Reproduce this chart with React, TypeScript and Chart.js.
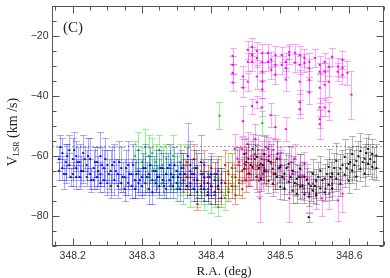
import React, { useEffect, useRef } from 'react';
import { Chart, registerables } from 'chart.js';

Chart.register(...registerables);

type P = [number, number, number]; // [R.A., V_LSR, error]

const blueData: P[] = [
  [348.180, -61, 4], [348.180, -65, 3], [348.185, -59, 5], [348.185, -64, 4],
  [348.190, -62, 6], [348.190, -66, 3], [348.195, -58, 5], [348.195, -63, 4],
  [348.200, -61, 7], [348.200, -66, 4], [348.205, -60, 5], [348.205, -64, 3], [348.205, -67, 4],
  [348.210, -62, 6], [348.210, -67, 4], [348.215, -59, 6], [348.215, -65, 4],
  [348.220, -63, 5], [348.220, -67, 3], [348.225, -61, 7], [348.225, -66, 5],
  [348.230, -64, 6], [348.230, -68, 3], [348.235, -62, 5], [348.235, -67, 4],
  [348.240, -60, 8], [348.240, -66, 4], [348.240, -69, 3], [348.245, -64, 6], [348.245, -68, 4],
  [348.250, -63, 5], [348.250, -69, 4], [348.255, -65, 7], [348.255, -70, 4],
  [348.260, -62, 6], [348.260, -68, 5], [348.265, -66, 5], [348.265, -70, 4],
  [348.270, -64, 7], [348.270, -69, 3], [348.275, -67, 6], [348.275, -71, 4],
  [348.280, -63, 8], [348.280, -69, 4], [348.285, -66, 5], [348.285, -70, 4],
  [348.290, -68, 6], [348.290, -71, 3], [348.295, -65, 7], [348.295, -69, 4],
  [348.300, -67, 6], [348.300, -70, 4], [348.305, -64, 8], [348.305, -69, 4],
  [348.310, -66, 6], [348.310, -71, 5], [348.315, -68, 5], [348.315, -72, 4],
  [348.320, -65, 7], [348.320, -69, 3], [348.325, -67, 6], [348.325, -70, 4],
  [348.330, -64, 5], [348.330, -68, 4], [348.335, -66, 6], [348.335, -71, 3],
  [348.340, -63, 7], [348.340, -68, 4], [348.345, -67, 5], [348.345, -70, 4],
  [348.350, -65, 6], [348.350, -69, 3], [348.355, -66, 4], [348.355, -71, 4],
  [348.360, -64, 5], [348.360, -68, 3], [348.366, -60, 11], [348.365, -70, 4],
  [348.370, -63, 8], [348.370, -69, 4], [348.375, -66, 5], [348.375, -71, 4],
  [348.380, -68, 5], [348.380, -72, 3], [348.385, -62, 9], [348.385, -70, 4],
  [348.390, -67, 5], [348.390, -71, 4], [348.395, -69, 4], [348.395, -73, 3],
  [348.400, -66, 6], [348.400, -70, 4], [348.405, -68, 4], [348.405, -72, 4],
  [348.410, -70, 4], [348.415, -69, 5],
  [348.182, -57, 4], [348.187, -66, 5], [348.192, -60, 4], [348.197, -67, 3],
  [348.202, -58, 6], [348.207, -62, 5], [348.212, -65, 5], [348.217, -61, 4],
  [348.222, -60, 6], [348.227, -68, 4], [348.232, -62, 5], [348.237, -65, 5],
  [348.242, -63, 6], [348.247, -61, 7], [348.252, -66, 5], [348.257, -63, 6],
  [348.262, -65, 4], [348.267, -62, 7], [348.272, -67, 5], [348.277, -64, 6],
  [348.282, -66, 4], [348.287, -63, 7], [348.292, -66, 5], [348.297, -68, 4],
  [348.302, -64, 5], [348.307, -67, 5], [348.312, -63, 6], [348.317, -65, 5],
  [348.322, -67, 4], [348.327, -64, 6], [348.332, -70, 4], [348.337, -64, 5],
  [348.342, -66, 5], [348.347, -63, 6], [348.352, -67, 4], [348.357, -64, 6],
  [348.362, -66, 5], [348.372, -66, 5], [348.378, -64, 6], [348.388, -66, 5],
  [348.398, -67, 6], [348.408, -66, 5],
];

const redData: P[] = [
  [348.360, -63, 4], [348.360, -69, 3], [348.365, -62, 5], [348.365, -67, 4],
  [348.370, -65, 4], [348.370, -70, 3], [348.375, -61, 5], [348.375, -68, 4],
  [348.380, -64, 5], [348.380, -76, 2], [348.385, -66, 4], [348.385, -71, 3],
  [348.390, -63, 5], [348.390, -69, 4], [348.395, -67, 4], [348.395, -72, 3],
  [348.400, -64, 5], [348.400, -70, 4], [348.405, -66, 4], [348.405, -73, 3],
  [348.410, -65, 5], [348.410, -71, 4], [348.415, -68, 4], [348.415, -74, 3],
  [348.420, -63, 5], [348.420, -69, 4], [348.425, -66, 4], [348.425, -72, 3],
  [348.430, -64, 5], [348.430, -70, 4], [348.435, -67, 4], [348.435, -73, 3],
  [348.440, -62, 5], [348.440, -69, 4], [348.445, -65, 4], [348.445, -71, 3],
  [348.450, -63, 5], [348.450, -68, 4], [348.455, -66, 4], [348.460, -64, 4],
  [348.465, -67, 4], [348.470, -63, 4], [348.480, -65, 4], [348.490, -66, 4],
];

const greenData: P[] = [
  [348.290, -60, 5], [348.295, -58, 6], [348.295, -66, 4], [348.300, -62, 5],
  [348.305, -57, 6], [348.305, -64, 4], [348.310, -60, 7], [348.310, -67, 4],
  [348.315, -59, 5], [348.315, -65, 4], [348.320, -62, 6], [348.320, -68, 4],
  [348.325, -58, 5], [348.325, -64, 5], [348.330, -63, 6], [348.330, -69, 4],
  [348.335, -61, 5], [348.335, -66, 4], [348.340, -64, 6], [348.340, -70, 4],
  [348.345, -60, 7], [348.345, -67, 4], [348.350, -65, 5], [348.350, -71, 4],
  [348.355, -62, 6], [348.355, -69, 4], [348.360, -66, 5], [348.360, -72, 4],
  [348.365, -63, 7], [348.365, -70, 3], [348.370, -67, 5], [348.370, -73, 4],
  [348.375, -64, 6], [348.375, -71, 4], [348.380, -68, 5], [348.380, -74, 3],
  [348.385, -65, 6], [348.385, -72, 4], [348.390, -69, 4], [348.390, -75, 3],
  [348.395, -66, 5], [348.395, -71, 4], [348.400, -70, 4], [348.400, -76, 3],
  [348.405, -67, 5], [348.405, -73, 4], [348.410, -68, 4], [348.410, -77, 3],
  [348.412, -46.5, 4.5], [348.415, -66, 6], [348.415, -72, 4],
  [348.420, -69, 4], [348.420, -74, 4], [348.425, -65, 6], [348.425, -71, 3],
  [348.430, -67, 5], [348.435, -64, 6], [348.435, -70, 4], [348.440, -68, 5],
  [348.474, -49, 4],
];

const blackData: P[] = [
  [348.448, -59.3, 5], [348.448, -64.2, 4], [348.454, -60.9, 5], [348.454, -65.9, 4],
  [348.460, -57.6, 5], [348.460, -63.6, 4], [348.466, -60.3, 4], [348.466, -66.9, 5],
  [348.472, -62.6, 5], [348.472, -67.5, 4], [348.477, -59.3, 6], [348.477, -64.9, 4],
  [348.483, -61.6, 5], [348.483, -68.2, 4], [348.489, -64.2, 5], [348.489, -69.2, 4],
  [348.495, -60.9, 6], [348.495, -66.9, 4], [348.500, -63.6, 5], [348.500, -70.2, 4],
  [348.506, -65.9, 5], [348.506, -70.8, 4], [348.512, -62.6, 6], [348.512, -68.5, 4],
  [348.518, -64.9, 5], [348.518, -71.5, 4], [348.524, -67.5, 5], [348.524, -72.5, 3],
  [348.529, -64.2, 5], [348.529, -70.2, 4], [348.535, -66.9, 5], [348.535, -72.8, 3],
  [348.541, -69.2, 4], [348.541, -73.5, 3], [348.541, -80.4, 1.5],
  [348.547, -65.9, 5], [348.547, -71.5, 4], [348.552, -68.2, 4], [348.552, -73.1, 3],
  [348.558, -64.9, 5], [348.558, -70.8, 4], [348.564, -67.5, 5], [348.564, -72.1, 3],
  [348.570, -63.6, 6], [348.570, -69.5, 4], [348.575, -65.9, 5], [348.575, -70.8, 4],
  [348.581, -61.6, 6], [348.581, -67.5, 4], [348.587, -64.2, 5], [348.587, -69.2, 4],
  [348.593, -60.3, 6], [348.593, -66.2, 4], [348.599, -62.6, 5], [348.599, -68.2, 4],
  [348.604, -59.3, 6], [348.604, -64.9, 4], [348.610, -61.6, 5], [348.610, -66.9, 4],
  [348.616, -58.3, 6], [348.616, -64.2, 4], [348.622, -60.9, 5], [348.622, -65.9, 4],
  [348.627, -57.6, 5], [348.627, -62.6, 4], [348.633, -59.3, 5], [348.633, -63.6, 4],
  [348.639, -59.9, 4], [348.639, -64.0, 4],
  [348.451, -62, 5], [348.457, -63, 5], [348.463, -61, 5], [348.469, -64, 4],
  [348.475, -63, 5], [348.480, -65, 5], [348.486, -62, 6], [348.492, -66, 5],
  [348.498, -64, 5], [348.503, -67, 4], [348.509, -64, 5], [348.515, -67, 5],
  [348.521, -69, 4], [348.527, -67, 4], [348.532, -70, 4], [348.538, -68, 4],
  [348.544, -70, 5], [348.550, -70, 4], [348.555, -67, 5], [348.561, -68, 4],
  [348.567, -66, 5], [348.573, -67, 5], [348.578, -64, 5], [348.584, -66, 5],
  [348.590, -63, 5], [348.596, -64, 5], [348.601, -62, 5], [348.607, -63, 5],
  [348.613, -60, 5], [348.619, -62, 5], [348.624, -59, 5], [348.630, -61, 5],
  [348.636, -62, 5],
];

const magentaData: P[] = [
  [348.431, -26.6, 2.7], [348.431, -29.6, 3], [348.431, -32.3, 3], [348.431, -35.5, 3],
  [348.446, -33.5, 3.5], [348.446, -37.2, 3],
  [348.453, -24.6, 3], [348.453, -28.6, 3], [348.453, -35.2, 3],
  [348.459, -23.6, 3], [348.459, -26.3, 2.5], [348.459, -28.6, 3],
  [348.466, -25.0, 3], [348.466, -27.3, 3], [348.466, -33.5, 4],
  [348.474, -25.6, 3], [348.474, -28.6, 3], [348.474, -31.9, 3], [348.474, -35.2, 3], [348.474, -37.8, 3],
  [348.482, -25.6, 3], [348.482, -28.6, 3], [348.487, -27.9, 2.5], [348.487, -31.2, 3],
  [348.493, -26.3, 3], [348.493, -29.6, 3], [348.493, -32.9, 3],
  [348.502, -26.3, 2.5], [348.502, -29.6, 3],
  [348.508, -28.6, 3], [348.508, -30.6, 3], [348.508, -34.5, 4],
  [348.513, -25.3, 2.5], [348.513, -26.3, 3], [348.521, -25.6, 3], [348.521, -28.9, 3],
  [348.528, -26.3, 3], [348.528, -29.6, 3], [348.528, -35.2, 4], [348.528, -42.1, 4], [348.528, -44.4, 3],
  [348.535, -27.3, 3], [348.535, -28.9, 3],
  [348.542, -28.6, 3], [348.542, -30.6, 3], [348.542, -34.5, 4], [348.542, -38.8, 4],
  [348.550, -27.3, 3],
  [348.557, -29.6, 3], [348.557, -31.9, 3], [348.557, -37.2, 5], [348.557, -43.8, 3], [348.557, -47.7, 3],
  [348.564, -28.6, 3], [348.564, -31.9, 3], [348.564, -36.2, 5], [348.564, -43.8, 3],
  [348.570, -30.2, 3], [348.570, -35.2, 5], [348.570, -45.1, 3],
  [348.575, -26.9, 3], [348.583, -30.2, 3], [348.583, -31.9, 3],
  [348.590, -27.9, 3], [348.590, -30.6, 3], [348.590, -32.9, 3],
  [348.597, -32.2, 4], [348.603, -39.5, 8],
  [348.446, -48.4, 5], [348.459, -43.4, 2.5], [348.466, -42.1, 2], [348.473, -43.8, 3],
  [348.486, -46.4, 4], [348.493, -50.4, 4], [348.508, -51.0, 4],
  [348.434, -57.6, 5], [348.438, -60.9, 4], [348.444, -57.6, 4], [348.448, -62.6, 5],
  [348.453, -56.0, 4], [348.456, -65.9, 4], [348.463, -59.3, 5], [348.464, -54.3, 5],
  [348.469, -68.2, 5], [348.470, -74.1, 8], [348.473, -60.9, 6], [348.477, -64.2, 5],
  [348.479, -57.0, 4], [348.482, -57.6, 4], [348.487, -62.6, 5], [348.493, -65.9, 6],
  [348.496, -59.3, 5], [348.499, -60.9, 4], [348.505, -67.5, 5], [348.511, -63.6, 4],
  [348.513, -74.1, 8], [348.518, -65.9, 5], [348.521, -60.9, 5], [348.524, -69.2, 4],
  [348.528, -64.2, 5], [348.534, -70.8, 4], [348.535, -62.6, 4], [348.539, -67.5, 5],
  [348.542, -72.5, 6], [348.547, -69.2, 4], [348.552, -72.5, 5], [348.557, -49.4, 5],
  [348.560, -74.1, 6], [348.565, -70.8, 4], [348.571, -72.5, 5], [348.575, -69.2, 4],
  [348.583, -74.8, 7], [348.590, -72.5, 6],
  [348.440, -63, 5], [348.451, -59, 5], [348.458, -61, 6], [348.468, -58, 5],
  [348.475, -66, 5], [348.484, -60, 5], [348.490, -58, 4], [348.501, -63, 5],
  [348.516, -62, 5], [348.531, -67, 5],
];

const xTickValues = [348.2, 348.3, 348.4, 348.5, 348.6];
const yTickValues = [-80, -60, -40, -20];
const xMinorStep = 0.025;
const yMinorStep = 5;
const xRange = [348.17, 348.65];
const yRange = [-90, -10];
const refLineV = -56.7;
const panelLabel = '(C)';
const xTitle = 'R.A. (deg)';

const toPts = (d: P[]) => d.map(([x, y, e]) => ({ x, y, e }));
const fmtX = (v: number) => v.toFixed(1);
const fmtY = (v: number) => (v < 0 ? '\u2212' + Math.abs(v) : String(v));

const errorBarPlugin = {
  id: 'errorBars',
  beforeDatasetDraw(chart: any, args: any) {
    const ds = chart.data.datasets[args.index];
    const { ctx, chartArea, scales } = chart;
    ctx.save();
    ctx.beginPath();
    ctx.rect(chartArea.left, chartArea.top, chartArea.right - chartArea.left, chartArea.bottom - chartArea.top);
    ctx.clip();
    ctx.strokeStyle = ds.barColor;
    ctx.lineWidth = 1;
    const cap = 3.5;
    for (const p of ds.data) {
      const px = Math.round(scales.x.getPixelForValue(p.x)) + 0.5;
      const yTop = Math.round(scales.y.getPixelForValue(p.y + p.e)) + 0.5;
      const yBot = Math.round(scales.y.getPixelForValue(p.y - p.e)) + 0.5;
      const yc = Math.round(scales.y.getPixelForValue(p.y)) + 0.5;
      ctx.beginPath();
      ctx.moveTo(px, yTop); ctx.lineTo(px, yBot);
      ctx.moveTo(px - cap, yTop); ctx.lineTo(px + cap, yTop);
      ctx.moveTo(px - cap, yBot); ctx.lineTo(px + cap, yBot);
      ctx.moveTo(px - 1.5, yc); ctx.lineTo(px + 1.5, yc);
      ctx.stroke();
    }
    ctx.restore();
  },
};

const framePlugin = {
  id: 'frame',
  beforeDatasetsDraw(chart: any) {
    const { ctx, chartArea: a, scales } = chart;
    ctx.save();
    ctx.strokeStyle = 'rgba(150,150,150,0.9)';
    ctx.setLineDash([2, 2]);
    ctx.lineWidth = 1;
    const yl = Math.round(scales.y.getPixelForValue(refLineV)) + 0.5;
    ctx.beginPath();
    ctx.moveTo(a.left, yl); ctx.lineTo(a.right, yl);
    ctx.stroke();
    ctx.restore();
  },
  afterDraw(chart: any) {
    const { ctx, chartArea: a, scales } = chart;
    ctx.save();
    ctx.strokeStyle = '#555';
    ctx.lineWidth = 1;
    const L = Math.round(a.left) + 0.5, R = Math.round(a.right) - 0.5;
    const T = Math.round(a.top) + 0.5, B = Math.round(a.bottom) - 0.5;
    ctx.strokeRect(L, T, R - L, B - T);
    ctx.beginPath();
    const isMajor = (v: number, list: number[]) => list.some(t => Math.abs(t - v) < 1e-6);
    for (let i = Math.ceil(xRange[0] / xMinorStep - 1e-9); i * xMinorStep <= xRange[1] + 1e-9; i++) {
      const v = i * xMinorStep;
      const px = Math.round(scales.x.getPixelForValue(v)) + 0.5;
      const len = isMajor(v, xTickValues) ? 7 : 4;
      ctx.moveTo(px, B); ctx.lineTo(px, B - len);
      ctx.moveTo(px, T); ctx.lineTo(px, T + len);
    }
    for (let i = Math.ceil(yRange[0] / yMinorStep - 1e-9); i * yMinorStep <= yRange[1] + 1e-9; i++) {
      const v = i * yMinorStep;
      const py = Math.round(scales.y.getPixelForValue(v)) + 0.5;
      const len = isMajor(v, yTickValues) ? 7 : 4;
      ctx.moveTo(L, py); ctx.lineTo(L + len, py);
      ctx.moveTo(R, py); ctx.lineTo(R - len, py);
    }
    ctx.stroke();

    // tick labels
    ctx.fillStyle = '#333';
    ctx.font = '10.5px "Liberation Sans", sans-serif';
    ctx.textBaseline = 'middle';
    ctx.textAlign = 'center';
    for (const v of xTickValues) {
      ctx.fillText(fmtX(v), scales.x.getPixelForValue(v), B + 11);
    }
    ctx.textAlign = 'right';
    for (const v of yTickValues) {
      ctx.fillText(fmtY(v), L - 4, scales.y.getPixelForValue(v));
    }

    // panel label
    ctx.fillStyle = '#222';
    ctx.font = '15px "Liberation Serif", serif';
    ctx.textBaseline = 'middle';
    ctx.textAlign = 'left';
    ctx.fillText(panelLabel, a.left + 11, a.top + 22);

    // x title
    ctx.font = '13px "Liberation Serif", serif';
    ctx.textAlign = 'center';
    ctx.fillText(xTitle, (a.left + a.right) / 2 + 6, 272);

    // y title with subscript
    ctx.save();
    ctx.translate(13, (a.top + a.bottom) / 2 + 6);
    ctx.rotate(-Math.PI / 2);
    const big = '14px "Liberation Serif", serif';
    const small = '8px "Liberation Serif", serif';
    ctx.font = big; const wV = ctx.measureText('V').width;
    ctx.font = small; const wS = ctx.measureText('LSR').width;
    ctx.font = big; const wR = ctx.measureText(' (km /s)').width;
    let x0 = -(wV + wS + wR) / 2;
    ctx.textAlign = 'left';
    ctx.textBaseline = 'middle';
    ctx.font = big; ctx.fillText('V', x0, 0); x0 += wV;
    ctx.font = small; ctx.fillText('LSR', x0, 4); x0 += wS;
    ctx.font = big; ctx.fillText(' (km /s)', x0, 0);
    ctx.restore();
    ctx.restore();
  },
};

export default function App() {
  const ref = useRef<HTMLCanvasElement>(null);
  useEffect(() => {
    document.body.style.margin = '0';
    const mk = (label: string, d: P[], bar: string, pt: string) => ({
      label,
      data: toPts(d),
      barColor: bar,
      backgroundColor: pt,
      borderColor: pt,
      pointRadius: 1.1,
      pointBorderWidth: 0,
      showLine: false,
    });
    const chart = new Chart(ref.current as HTMLCanvasElement, {
      type: 'scatter',
      data: {
        datasets: [
          mk('blue', blueData, 'rgba(0,0,255,0.32)', 'rgba(0,0,230,0.95)'),
          mk('red', redData, 'rgba(255,0,0,0.38)', 'rgba(235,0,0,0.95)'),
          mk('green', greenData, 'rgba(0,235,0,0.42)', 'rgba(0,200,0,0.95)'),
          mk('black', blackData, 'rgba(0,0,0,0.28)', 'rgba(0,0,0,0.9)'),
          mk('magenta', magentaData, 'rgba(255,0,255,0.35)', 'rgba(230,0,230,0.95)'),
        ] as any,
      },
      options: {
        animation: false,
        responsive: false,
        maintainAspectRatio: false,
        layout: { padding: { top: 6, right: 6, left: 0, bottom: 0 } },
        plugins: { legend: { display: false }, tooltip: { enabled: false } },
        scales: {
          x: {
            type: 'linear',
            min: xRange[0],
            max: xRange[1],
            grid: { display: false },
            border: { display: false },
            ticks: { display: false },
            afterFit: (s: any) => { s.height = 32; },
          },
          y: {
            type: 'linear',
            min: yRange[0],
            max: yRange[1],
            grid: { display: false },
            border: { display: false },
            ticks: { display: false },
            afterFit: (s: any) => { s.width = 52; },
          },
        },
      } as any,
      plugins: [errorBarPlugin, framePlugin],
    });
    return () => chart.destroy();
  }, []);
  return <canvas ref={ref} width={390} height={278} style={{ display: 'block', width: 390, height: 278 }} />;
}
